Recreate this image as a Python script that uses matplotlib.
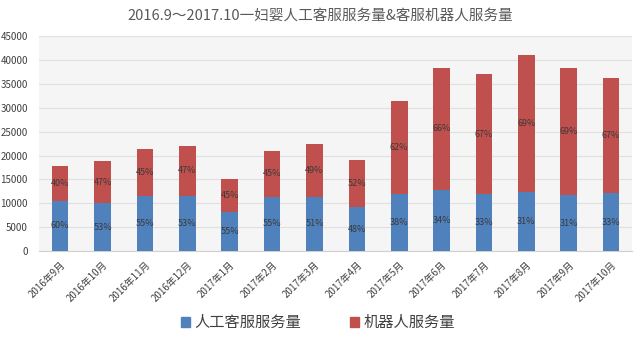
import matplotlib.pyplot as plt
from matplotlib.patches import Patch

plt.rcParams['font.family'] = ['Noto Sans CJK SC', 'DejaVu Sans']

months = ['2016年9月', '2016年10月', '2016年11月', '2016年12月', '2017年1月', '2017年2月',
          '2017年3月', '2017年4月', '2017年5月', '2017年6月', '2017年7月', '2017年8月',
          '2017年9月', '2017年10月']
total = [17700, 18800, 21300, 22000, 15100, 21000, 22400, 19100, 31400, 38300, 37000, 41100,
         38300, 36300]
human = [10500, 10000, 11600, 11600, 8200, 11400, 11400, 9200, 11900, 12800, 11900, 12400,
         11700, 12100]
human_pct = ['60%', '53%', '55%', '53%', '55%', '55%', '51%', '48%', '38%', '34%', '33%', '31%',
             '31%', '33%']
robot_pct = ['40%', '47%', '45%', '47%', '45%', '45%', '49%', '52%', '62%', '66%', '67%', '69%',
             '69%', '67%']
robot = [t - h for t, h in zip(total, human)]

blue = '#4F81BD'
red = '#C0504D'

fig = plt.figure(figsize=(6.4, 3.37), dpi=100)
fig.patch.set_facecolor('white')
ax = fig.add_axes([0.061, 0.255, 0.927, 0.638])
ax.set_facecolor('#f5f5f5')

x = range(len(months))
ax.bar(x, human, width=0.39, color=blue, zorder=3)
ax.bar(x, robot, width=0.39, bottom=human, color=red, zorder=3)

for i in x:
    ax.text(i, human[i] / 2, human_pct[i], ha='center', va='center', fontsize=6.5,
            color='#3a3a3a', zorder=4)
    ax.text(i, human[i] + robot[i] / 2, robot_pct[i], ha='center', va='center', fontsize=6.5,
            color='#3a3a3a', zorder=4)

ax.set_xlim(-0.5, len(months) - 0.5)
ax.set_ylim(0, 45000)
ax.set_yticks(range(0, 45001, 5000))
ax.yaxis.grid(True, color='#e0e0e0', linewidth=0.8, zorder=0)
ax.set_xticks(list(x))
ax.set_xticklabels(months, rotation=45, ha='right', rotation_mode='anchor', fontsize=7,
                   color='#404040')
ax.tick_params(axis='y', length=0, labelsize=7, labelcolor='#404040', pad=8)
ax.tick_params(axis='x', length=0, pad=6)
for s in ['top', 'right', 'left']:
    ax.spines[s].set_visible(False)
ax.spines['bottom'].set_color('#d0d0d0')

fig.text(0.5, 0.952, '2016.9～2017.10一妇婴人工客服服务量&客服机器人服务量', ha='center', va='center',
         fontsize=10.5, color='#595959')

handles = [Patch(color=blue), Patch(color=red)]
fig.legend(handles, ['人工客服服务量', '机器人服务量'], loc='center', bbox_to_anchor=(0.497, 0.042),
           ncol=2, frameon=False, fontsize=11, labelcolor='#404040', handlelength=0.6,
           handleheight=0.6, handletextpad=0.3, columnspacing=3.2)

plt.savefig('out.png', dpi=100, facecolor='white')
plt.close()
